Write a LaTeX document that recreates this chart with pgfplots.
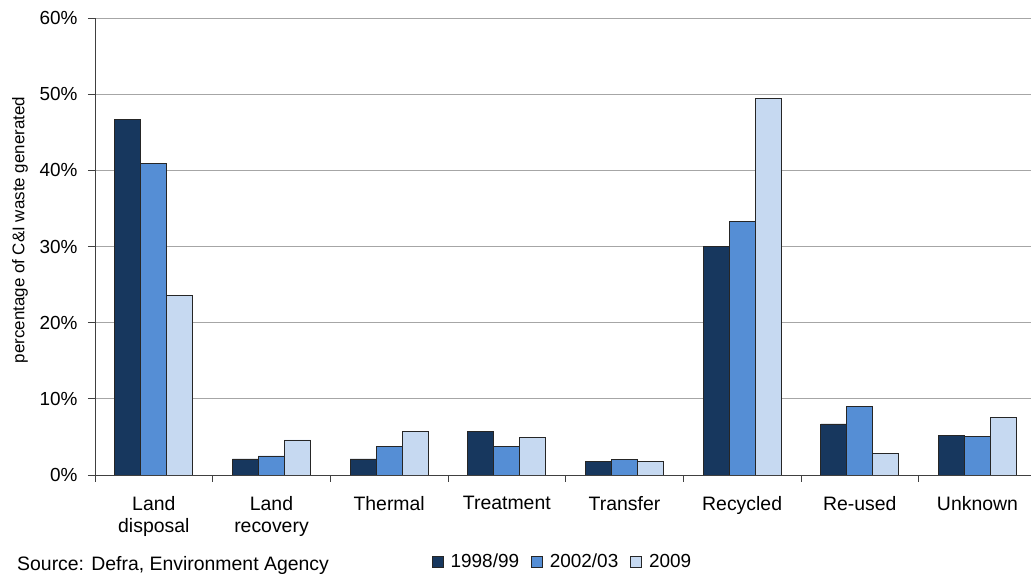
\documentclass[border=0pt]{standalone}
\usepackage{fontspec}
\setmainfont{Liberation Sans}
\usepackage{pgfplots}
\usepackage{pgfplotstable}
\pgfplotsset{compat=1.18}

\definecolor{yrA}{HTML}{17375E}
\definecolor{yrB}{HTML}{558ED5}
\definecolor{yrC}{HTML}{C6D9F1}
\definecolor{gridc}{HTML}{A6A6A6}
\definecolor{axisc}{HTML}{404040}

% share of C&I waste by management route (%)
\pgfplotstableread{
x  a     b     c
0  46.7  40.9  23.6
1  2.1   2.5   4.6
2  2.1   3.7   5.7
3  5.7   3.8   4.9
4  1.8   2.0   1.8
5  30.0  33.3  49.4
6  6.7   9.0   2.8
7  5.2   5.1   7.6
}\waste

\begin{document}
\begin{tikzpicture}[x=1bp,y=1bp]
\useasboundingbox (0,0) rectangle (1031,574);
\begin{axis}[
  at={(95bp,99bp)}, anchor=south west,
  scale only axis, width=936bp, height=457bp,
  xmin=-0.5, xmax=7.455, ymin=0, ymax=60,
  axis x line*=bottom, axis y line*=left,
  axis line style={draw=axisc, line width=0.9bp, -},
  tick align=outside,
  major tick length=7bp,
  tick style={draw=axisc, line width=0.9bp},
  ytick={0,10,...,60},
  yticklabels={0\%,10\%,20\%,30\%,40\%,50\%,60\%},
  yticklabel style={font=\fontsize{19}{22}\selectfont, xshift=-7bp},
  ymajorgrids,
  grid style={draw=gridc, line width=0.9bp},
  xtick={-0.5,0.5,...,6.5},
  xticklabels={},
  extra x ticks={0,1,...,7},
  extra x tick labels={{Land\\disposal},{Land\\recovery},Thermal,Treatment,Transfer,Recycled,Re-used,Unknown},
  extra x tick style={tick style={draw=none}, grid=none},
  xticklabel style={font=\fontsize{19.5}{22}\selectfont, align=center, anchor=north, yshift=-11bp},
  ylabel={percentage of C\&I waste generated},
  ylabel style={font=\fontsize{17}{20}\selectfont, at={(axis description cs:-0.0801,0.536)}, anchor=center},
  legend columns=3,
  legend style={at={(axis description cs:0.4995,-0.19)}, anchor=center, draw=none, fill=none,
    font=\fontsize{19}{22}\selectfont,
    /tikz/every odd column/.append style={column sep=5bp},
    /tikz/every even column/.append style={column sep=10bp}},
  legend image code/.code={\draw[#1, line width=0.8bp] (0bp,-5.5bp) rectangle (11bp,5.5bp);},
]
\addplot[ybar, bar width=0.221, bar shift=-0.221, fill=yrA, draw=black!85, line width=0.8bp] table[x=x, y=a] {\waste};
\addplot[ybar, bar width=0.221, bar shift=0, fill=yrB, draw=black!85, line width=0.8bp] table[x=x, y=b] {\waste};
\addplot[ybar, bar width=0.221, bar shift=0.221, fill=yrC, draw=black!85, line width=0.8bp] table[x=x, y=c] {\waste};
\legend{1998/99, 2002/03, 2009}
\end{axis}
\node[anchor=base west, font=\fontsize{19.5}{22}\selectfont, inner sep=0pt] at (17,3) {Source: Defra, Environment Agency};
\end{tikzpicture}
\end{document}
